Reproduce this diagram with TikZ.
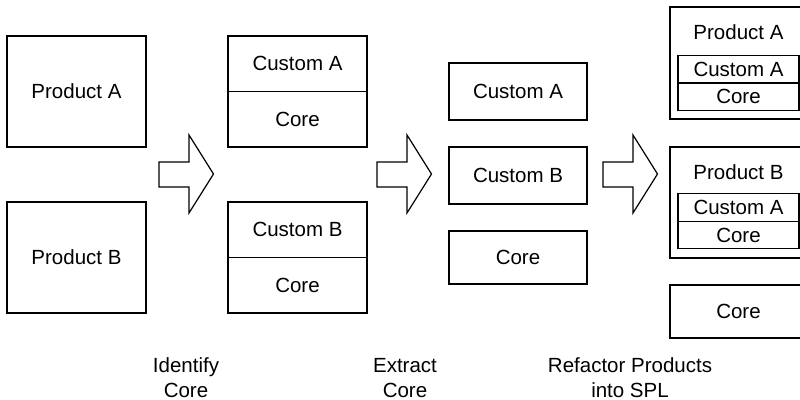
\documentclass[tikz,border=0pt]{standalone}
\usepackage{fontspec}
\setmainfont{Liberation Sans}

\tikzset{
  txt/.style={font=\fontsize{10.25}{12.5}\selectfont},
  box/.style={txt, draw, line width=0.65pt, inner sep=0pt},
  prodbox/.style={box, minimum width=69.5pt, minimum height=55.5pt},
  halfbox/.style={box, minimum width=69.5pt, minimum height=27.75pt},
  partbox/.style={box, minimum width=69pt, minimum height=28.5pt},
  splbox/.style={box, minimum width=68.5pt, minimum height=55.5pt},
  innerbox/.style={box, minimum width=60.5pt, minimum height=13.75pt},
  blockarrow/.style={draw, line width=0.6pt, line join=miter}
}

\begin{document}
\begin{tikzpicture}[x=0.5pt,y=-0.5pt]
  \useasboundingbox (0,0) rectangle (800,400);
  % two products
  \node[prodbox] (prodA) at (76.5,91.5) {Product A};
  \node[prodbox] (prodB) at (76.5,257.5) {Product B};
  % identified core
  \node[halfbox] (custA) at (297.5,63.75) {Custom A};
  \node[halfbox] (coreA) at (297.5,119.25) {Core};
  \node[halfbox] (custB) at (297.5,229.75) {Custom B};
  \node[halfbox] (coreB) at (297.5,285.25) {Core};
  % extracted parts
  \node[partbox] (partA) at (518,91.5) {Custom A};
  \node[partbox] (partB) at (518,175.5) {Custom B};
  \node[partbox,minimum height=26.5pt] (partCore) at (518,257.5) {Core};
  % product line
  \node[splbox,minimum height=56pt] (splA) at (738.5,63) {};
  \node[txt] (splAname) at (738.5,32) {Product A};
  \node[innerbox] (splAcust) at (738.5,69.5) {Custom A};
  \node[innerbox] (splAcore) at (738.5,96.5) {Core};
  \node[splbox] (splB) at (738.5,202.5) {};
  \node[txt] (splBname) at (738.5,172) {Product B};
  \node[innerbox] (splBcust) at (738.5,207.5) {Custom A};
  \node[innerbox] (splBcore) at (738.5,235) {Core};
  \node[splbox,minimum height=26.5pt] (splCore) at (738.5,311.5) {Core};
  % step arrows
  \foreach \ax in {159,377,603}
    \draw[blockarrow] (\ax,162) -- (\ax+30,162) -- (\ax+30,135) -- (\ax+54.5,174)
      -- (\ax+30,213) -- (\ax+30,187) -- (\ax,187) -- cycle;
  \node[txt,align=center] (stepIdentify) at (186,378) {Identify\\Core};
  \node[txt,align=center] (stepExtract) at (405,378) {Extract\\Core};
  \node[txt,align=center] (stepRefactor) at (630,378) {Refactor Products\\into SPL};
\end{tikzpicture}
\end{document}
